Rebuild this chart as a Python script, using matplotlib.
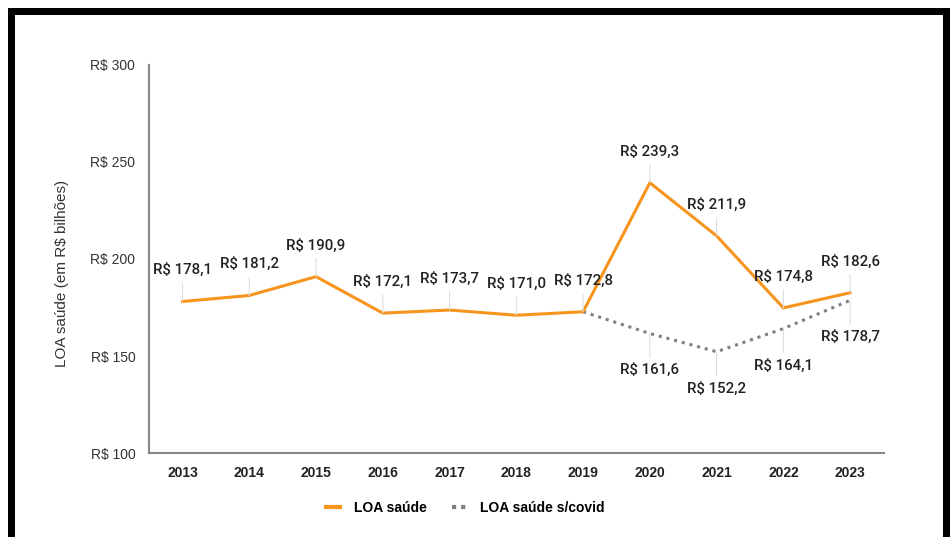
import matplotlib
matplotlib.use('Agg')
import matplotlib.pyplot as plt
from matplotlib.lines import Line2D
from matplotlib.patches import Rectangle

# Data (R$ bilhões)
years = ['2013', '2014', '2015', '2016', '2017', '2018', '2019', '2020', '2021', '2022', '2023']
loa_saude = [178.1, 181.2, 190.9, 172.1, 173.7, 171.0, 172.8, 239.3, 211.9, 174.8, 182.6]
covid_years = ['2019', '2020', '2021', '2022', '2023']
loa_sem_covid = [172.8, 161.6, 152.2, 164.1, 178.7]
y_ticks = [100, 150, 200, 250, 300]

ORANGE = '#F7941D'
GRAY = '#7f7f7f'


def fmt(v):
    return 'R$ ' + f'{v:.1f}'.replace('.', ',')


fig = plt.figure(figsize=(9.5, 5.37), dpi=100)
ax = fig.add_axes([0.157, 0.1564, 0.773, 0.7226])

x_main = list(range(len(years)))
x_cov = [years.index(y) for y in covid_years]

ax.plot(x_main, loa_saude, color=ORANGE, lw=2.2, solid_joinstyle='miter', zorder=3)
ax.plot(x_cov, loa_sem_covid, color=GRAY, lw=2.2, linestyle=(0, (1, 1.6)), zorder=2)

label_font = dict(family=['Roboto', 'DejaVu Sans'], fontsize=10.8, fontweight='medium', color='#222222')

# labels above the main series
for x, v in zip(x_main, loa_saude):
    ax.annotate('', xy=(x, v), xytext=(0, 13), textcoords='offset points',
                arrowprops=dict(arrowstyle='-', color='#dddddd', lw=0.8, shrinkA=0, shrinkB=0))
    ax.annotate(fmt(v), xy=(x, v), xytext=(0, 22.5), textcoords='offset points',
                ha='center', va='center', **label_font)

# labels below the no-covid series (skip shared 2019 point)
for x, v in zip(x_cov[1:], loa_sem_covid[1:]):
    ax.annotate('', xy=(x, v), xytext=(0, -17), textcoords='offset points',
                arrowprops=dict(arrowstyle='-', color='#dddddd', lw=0.8, shrinkA=0, shrinkB=0))
    ax.annotate(fmt(v), xy=(x, v), xytext=(0, -26.5), textcoords='offset points',
                ha='center', va='center', **label_font)

ax.set_xlim(-0.5, len(years) - 0.5)
ax.set_ylim(100, 300)
ax.set_xticks(x_main)
ax.set_xticklabels(years, fontsize=10, fontweight='bold', family='Liberation Sans', color='#222222')
ax.set_yticks(y_ticks)
ax.set_yticklabels([f'R$ {t}' for t in y_ticks], fontsize=10, family='Liberation Sans', color='#333333')
ax.tick_params(axis='both', length=0)
ax.tick_params(axis='x', pad=9)
ax.tick_params(axis='y', pad=10)
for s in ['top', 'right']:
    ax.spines[s].set_visible(False)
for s in ['left', 'bottom']:
    ax.spines[s].set_color('#888888')
    ax.spines[s].set_linewidth(1.5)

fig.text(0.065, 0.49, 'LOA saúde (em R$ bilhões)', rotation=90, ha='center', va='center',
         fontsize=11, family='Liberation Sans', color='#333333')

handles = [Line2D([], [], color=ORANGE, lw=3),
           Line2D([], [], color=GRAY, lw=3, linestyle=(0, (1, 1.2)))]
fig.legend(handles, ['LOA saúde', 'LOA saúde s/covid'], loc='center', bbox_to_anchor=(0.49, 0.054),
           ncol=2, frameon=False, handlelength=1.0, columnspacing=1.8, handletextpad=1.0,
           prop=dict(family='Liberation Sans', weight='bold', size=10))

# black frame around the picture
W, H = 950, 537
for (x0, y0, w, h) in [(8, 8, 942, 7), (8, 8, 7, 529), (943, 8, 7, 529)]:
    fig.add_artist(Rectangle((x0 / W, 1 - (y0 + h) / H), w / W, h / H,
                             transform=fig.transFigure, color='black', lw=0))

fig.savefig('out.png', dpi=100)
